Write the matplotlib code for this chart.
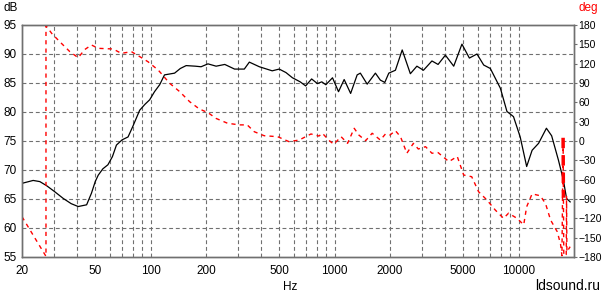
import matplotlib

matplotlib.use("Agg")
import matplotlib.pyplot as plt
from matplotlib.ticker import FixedLocator, NullFormatter, NullLocator

# SPL (black, left axis)
spl_freq = [20, 23, 25, 27.2, 30, 33.5, 37, 40.4, 44.9, 47.7, 50, 51.9, 55, 58.6,
            62, 65.2, 70, 75.4, 80, 87.2, 93, 98.8, 105, 112, 119, 135, 145, 156,
            175, 188, 205, 227, 253, 286, 323, 344, 390, 458, 500, 544, 590, 650,
            696, 750, 806, 852, 896, 974, 1050, 1127, 1222, 1326, 1380, 1503, 1666,
            1772, 1874, 1970, 2140, 2330, 2580, 2800, 3040, 3380, 3650, 4000, 4440,
            4920, 5400, 5940, 6460, 7020, 7960, 8640, 9380, 10200, 11060, 11840,
            12840, 14160, 15120, 16460, 17500, 18220, 19060]
spl_db = [67.7, 68.2, 68.0, 67.3, 66.3, 65.1, 64.2, 63.7, 64.0, 66.0, 68.0, 69.1,
          70.2, 70.9, 72.3, 74.3, 75.2, 75.7, 77.5, 80.3, 81.3, 82.1, 83.5, 84.7,
          86.4, 86.7, 87.5, 88.0, 87.9, 87.8, 88.3, 87.9, 88.2, 87.4, 87.4, 88.6,
          87.8, 87.1, 87.4, 86.8, 85.9, 85.2, 84.5, 85.7, 84.9, 85.2, 84.7, 85.9,
          83.5, 85.6, 83.2, 86.4, 86.7, 84.8, 86.7, 85.5, 85.1, 86.7, 87.2, 90.7,
          86.6, 87.9, 87.2, 88.8, 88.2, 89.8, 87.9, 91.7, 89.3, 90.0, 88.1, 87.5,
          84.1, 80.1, 79.2, 75.7, 70.6, 73.4, 74.6, 77.2, 75.9, 71.7, 68.3, 65.1,
          64.5]

# phase (red dashed, right axis)
phase_freq = [20, 27.0, 27.0, 29, 32.1, 36.4, 40.4, 43.9, 47.7, 51.9, 62.5, 69.3,
              78.7, 87.2, 96.8, 110, 114, 127, 144, 163, 184, 205, 227, 262, 304,
              335, 366, 414, 490, 565, 642, 696, 744, 822, 858, 936, 990, 1084, 1176,
              1278, 1354, 1474, 1600, 1772, 1890, 2000, 2140, 2280, 2470, 2680, 2850,
              3120, 3380, 3650, 4180, 4640, 5030, 5560, 6060, 6730, 7460, 8280, 8820,
              9800, 10660, 11060, 11840, 13120, 14000, 14920, 16220, 16900, 17200,
              17450, 17520, 17600, 18150, 18220, 18300, 19060]
phase_deg = [-117.5, -179, 179, 167, 154, 138.6, 129.3, 142, 149, 143.8, 142.8, 136,
             138.6, 131, 123, 110, 105, 89.5, 76.5, 61, 49.7, 44, 35, 27.5, 25, 25,
             14.4, 8.2, 6.7, -1, 1.5, 6.7, 10.9, 7.7, 12, 0.5, -5, 6.7, -3.6, 19.7,
             9.3, 0.5, 12, 1.5, 10.9, 9.3, 16, 6.7, -19, -3.6, -12.4, -8.8, -19, -18,
             -32, -24, -52.8, -55.4, -78.7, -91.6, -107, -120, -112, -120, -130, -102,
             -82, -85, -97, -122.6, -140.8, -160, -178, 5, -88, -178, -176, -86, -172,
             -164]

db_ticks = [55, 60, 65, 70, 75, 80, 85, 90, 95]
deg_ticks = [-180, -150, -120, -90, -60, -30, 0, 30, 60, 90, 120, 150, 180]
hz_ticks = [20, 50, 100, 200, 500, 1000, 2000, 5000, 10000]
hz_grid = [30, 40, 50, 60, 70, 80, 90, 100, 200, 300, 400, 500, 600, 700, 800, 900,
           1000, 2000, 3000, 4000, 5000, 6000, 7000, 8000, 9000, 10000]

plt.rcParams["font.family"] = ["Liberation Sans", "DejaVu Sans"]
plt.rcParams["font.size"] = 8

W, H = 603, 294
fig = plt.figure(figsize=(W / 100, H / 100), dpi=100)
ax = fig.add_axes([22 / W, 37 / H, 552 / W, 232 / H])
ax2 = ax.twinx()

frame = "#707070"
grid_kw = dict(color="#707070", linewidth=0.8, dashes=(3.5, 2.5))

ax.set_xscale("log")
ax.set_xlim(20, 20000)
ax.set_ylim(55, 95)
ax2.set_ylim(-180, 180)

for f in hz_grid:
    ax.axvline(f, zorder=0, **grid_kw)
for d in db_ticks[1:-1]:
    ax.axhline(d, zorder=0, **grid_kw)

ax.plot(spl_freq, spl_db, color="black", linewidth=0.9, zorder=3)
ax2.plot(phase_freq, phase_deg, color="#ff0000", linewidth=1.0, dashes=(3, 3))
# thick spike near the top end
spike = [(f, d) for f, d in zip(phase_freq, phase_deg) if 17300 <= f <= 17550]
ax2.plot([p[0] for p in spike], [p[1] for p in spike], color="#ff0000",
         linewidth=2.5, dashes=(3, 2))

ax.xaxis.set_major_locator(FixedLocator(hz_ticks))
ax.xaxis.set_major_formatter(plt.FixedFormatter([str(t) for t in hz_ticks]))
ax.xaxis.set_minor_locator(NullLocator())
ax.xaxis.set_minor_formatter(NullFormatter())
ax.set_yticks(db_ticks)
ax2.set_yticks(deg_ticks)

ax.tick_params(axis="x", length=0, pad=6, labelsize=8.5)
ax.tick_params(axis="y", length=0, pad=4, labelsize=8.5)
ax2.tick_params(axis="y", length=2, width=0.8, color=frame, pad=1, labelsize=7.5)

for a in (ax, ax2):
    for s in a.spines.values():
        s.set_color(frame)
        s.set_linewidth(1.0)

fig.text(3 / W, 1 - 8 / H, "dB", ha="left", va="center", fontsize=8.5)
fig.text(598 / W, 1 - 8 / H, "deg", ha="right", va="center", fontsize=8.5,
         color="#ff0000")
fig.text(290 / W, 1 - 287 / H, "Hz", ha="center", va="center", fontsize=8.5)
fig.text(600 / W, 1 - 286 / H, "ldsound.ru", ha="right", va="center", fontsize=10)

fig.savefig("out.png", dpi=100)
